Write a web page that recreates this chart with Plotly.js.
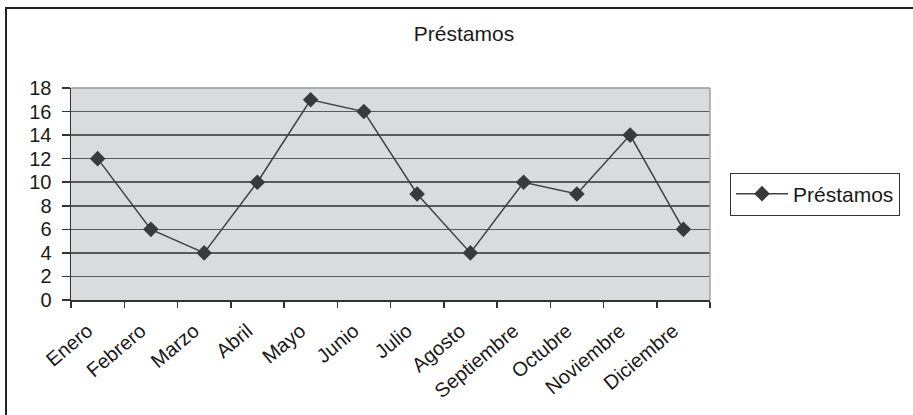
<!DOCTYPE html>
<html>
<head>
<meta charset="utf-8">
<script src="https://cdn.plot.ly/plotly-3.0.1.min.js"></script>
<style>
html,body{margin:0;padding:0;background:#fff;}
#chart{width:913px;height:415px;}
</style>
</head>
<body>
<div id="chart"></div>
<script>
const chartTitle = "Préstamos";
const seriesName = "Préstamos";
const months = ["Enero","Febrero","Marzo","Abril","Mayo","Junio","Julio","Agosto","Septiembre","Octubre","Noviembre","Diciembre"];
const prestamos = [12, 6, 4, 10, 17, 16, 9, 4, 10, 9, 14, 6];
const yTicks = [0, 2, 4, 6, 8, 10, 12, 14, 16, 18];

const fontFam = "Liberation Sans, Arial, sans-serif";
const fs = 20;

const trace = {
  type: "scatter",
  mode: "lines+markers",
  x: months,
  y: prestamos,
  name: seriesName,
  line: {color: "#404040", width: 1.5},
  marker: {symbol: "diamond", size: 12, color: "#3a3a3a"},
  showlegend: true
};

const L = 71, R = 710, T = 88, B = 300, W = 913, H = 415;
const pw = R - L, ph = B - T;
function px(x){ return (x - L) / pw; }
function py(y){ return (B - y) / ph; }

const layout = {
  width: W, height: H,
  margin: {l: L, r: W - R, t: T, b: H - B, pad: 0},
  paper_bgcolor: "#ffffff",
  plot_bgcolor: "#d9dbdd",
  font: {family: fontFam, size: fs, color: "#1a1a1a"},
  title: {
    text: chartTitle,
    x: 464 / W, xref: "container", xanchor: "center",
    y: 1 - 34 / H, yref: "container", yanchor: "middle",
    font: {family: fontFam, size: 21, color: "#1a1a1a"}
  },
  xaxis: {
    type: "category",
    range: [-0.5, months.length - 0.5],
    tickangle: -40,
    tickson: "boundaries",
    ticks: "outside",
    ticklen: 6,
    tickcolor: "#333",
    tickwidth: 1.5,
    showgrid: false,
    showline: true,
    linecolor: "#333",
    linewidth: 1.5,
    zeroline: false,
    ticklabelstandoff: 10,
    ticklabelshift: -10,
    tickfont: {family: fontFam, size: fs, color: "#1a1a1a"},
    fixedrange: true
  },
  yaxis: {
    range: [0, 18],
    tickvals: yTicks,
    ticks: "outside",
    ticklen: 8,
    tickcolor: "#333",
    tickwidth: 1.5,
    showline: true,
    linecolor: "#333",
    linewidth: 1.5,
    showgrid: true,
    gridcolor: "#5a5a5a",
    gridwidth: 1.5,
    zeroline: false,
    ticklabelstandoff: 6,
    tickfont: {family: fontFam, size: fs, color: "#1a1a1a"},
    fixedrange: true
  },
  legend: {
    x: px(730), xanchor: "left",
    y: 0.5, yanchor: "middle",
    bordercolor: "#333",
    borderwidth: 1,
    bgcolor: "#ffffff",
    itemwidth: 52,
    font: {family: fontFam, size: 21, color: "#1a1a1a"}
  },
  shapes: [
    {type: "line", xref: "paper", yref: "paper", x0: 1, x1: 1, y0: 0, y1: 1,
     line: {color: "#a0a0a0", width: 1.5}},
    {type: "line", xref: "paper", yref: "paper", x0: 0, x1: 1, y0: 1, y1: 1,
     line: {color: "#9a9a9a", width: 1.5}},
    {type: "rect", xref: "paper", yref: "paper",
     x0: px(6), x1: px(920), y0: py(8), y1: py(422),
     line: {color: "#222", width: 2}, fillcolor: "rgba(0,0,0,0)", layer: "below"}
  ]
};

Plotly.newPlot("chart", [trace], layout, {displayModeBar: false, staticPlot: true});
</script>
</body>
</html>
